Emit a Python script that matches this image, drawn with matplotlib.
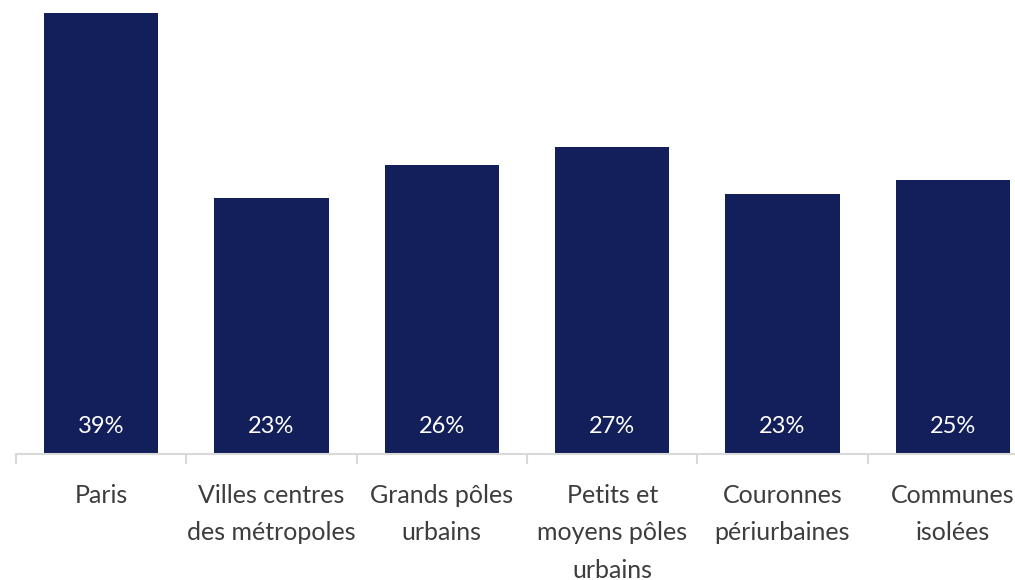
import matplotlib
matplotlib.use("Agg")
import matplotlib.pyplot as plt
from matplotlib.ticker import FixedLocator

categories = [
    "Paris",
    "Villes centres\ndes métropoles",
    "Grands pôles\nurbains",
    "Petits et\nmoyens pôles\nurbains",
    "Couronnes\npériurbaines",
    "Communes\nisolées",
]
shares = [39.0, 22.6, 25.5, 27.1, 23.0, 24.2]
share_labels = ["39%", "23%", "26%", "27%", "23%", "25%"]

BAR_COLOR = "#121f5a"
AXIS_COLOR = "#d9d9d9"
TEXT_COLOR = "#3d3d3d"

plt.rcParams["font.family"] = ["Lato", "DejaVu Sans"]

W, H = 1015, 580
fig = plt.figure(figsize=(W / 100, H / 100), dpi=100)
# axes extends a bit past the right edge, like the original crop
left, right, base, top = 16, 1038, 453.5, 0
ax = fig.add_axes([left / W, (H - base) / H, (right - left) / W, (base - top) / H])

x = list(range(len(categories)))
ax.bar(x, shares, width=0.67, color=BAR_COLOR)
ax.set_xlim(-0.5, len(categories) - 0.5)
ax.set_ylim(0, 39.0 * 453.5 / 440.5)

for xi, lab in zip(x, share_labels):
    ax.annotate(lab, (xi, 0), xytext=(0, 27 * 0.72), textcoords="offset points",
                ha="center", va="center", color="white", fontsize=17)

for s in ("top", "right", "left"):
    ax.spines[s].set_visible(False)
ax.spines["bottom"].set_color(AXIS_COLOR)
ax.spines["bottom"].set_linewidth(1.5)
ax.set_yticks([])

ax.set_xticks(x)
ax.set_xticklabels(categories, fontsize=18, color=TEXT_COLOR,
                   linespacing=1.75, va="top")
ax.tick_params(axis="x", which="major", length=0, pad=22)
ax.xaxis.set_minor_locator(FixedLocator([i - 0.5 for i in range(len(categories) + 1)]))
ax.tick_params(axis="x", which="minor", length=7, width=1.5, color=AXIS_COLOR)

fig.savefig("out.png", dpi=100, facecolor="white")
